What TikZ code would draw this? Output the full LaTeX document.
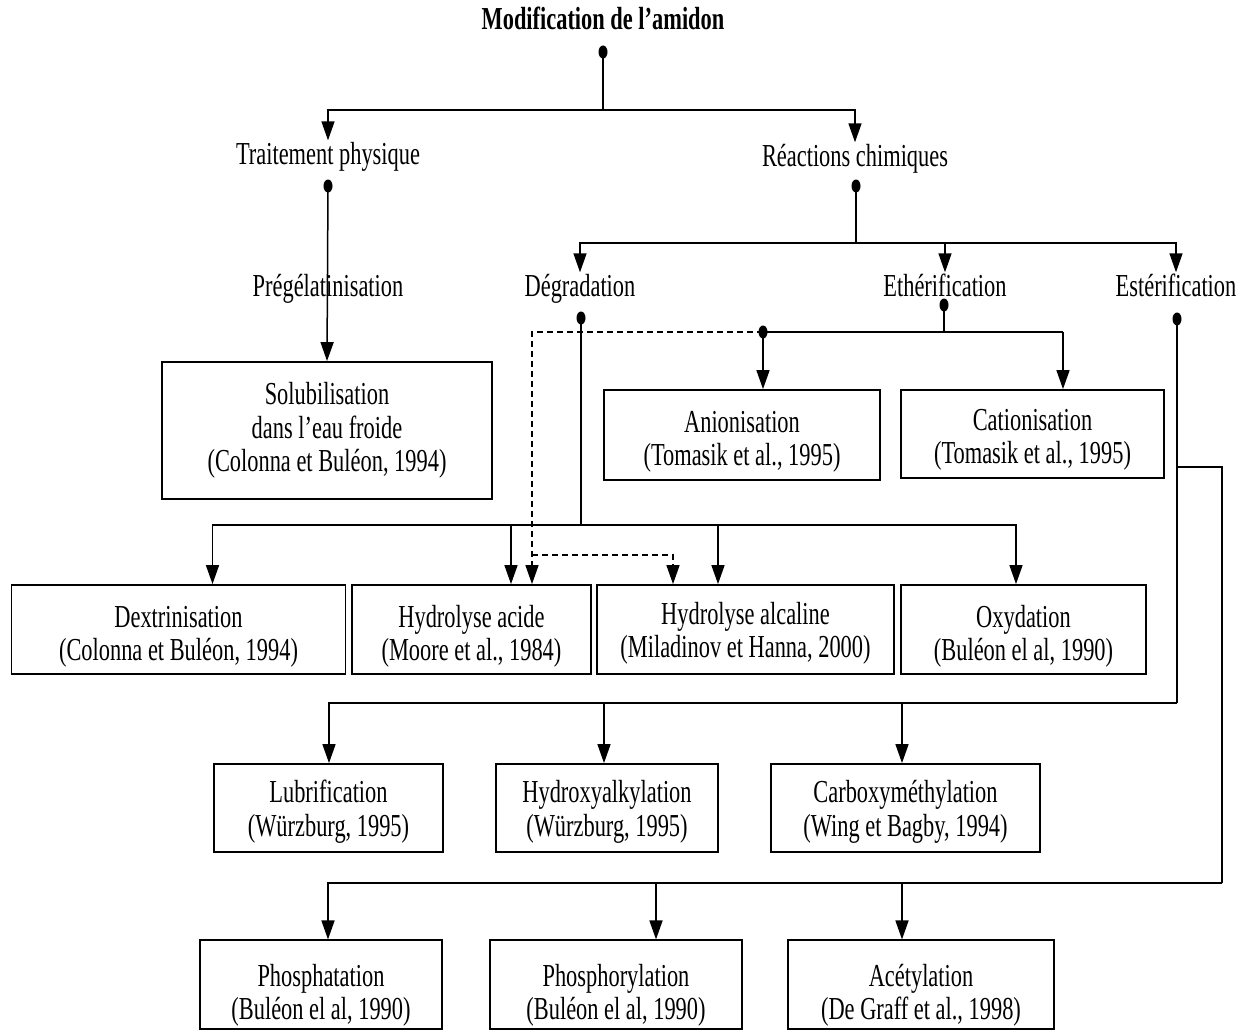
\documentclass[tikz,border=0pt]{standalone}
\usepackage{fontspec}
\setmainfont[FakeStretch=0.7]{Liberation Serif}
\usetikzlibrary{arrows.meta, calc}

\newcommand{\haut}[1]{\rule{0pt}{#1pt}}

\tikzset{
  txt/.style={font=\fontsize{32}{33.5}\selectfont, inner sep=2pt, align=center},
  etiq/.style={txt, text height=22pt, text depth=7pt},
  boite/.style={txt, draw, line width=1.8pt},
  lien/.style={line width=1.5pt},
  fleche/.style={lien, -{Triangle[width=13pt,length=19pt]}},
  tirets/.style={fleche, dash pattern=on 6pt off 4pt},
}

\begin{document}
\begin{tikzpicture}[x=1pt, y=-1pt]
        \useasboundingbox (0,0) rectangle (1253,1030);
        \node[etiq, font=\fontsize{32}{34}\selectfont\bfseries] (mod) at (603,22) {Modification de l'amidon};
        \node[etiq] (trait) at (328,157) {Traitement physique};
        \node[etiq] (reac) at (855,159) {Réactions chimiques};
        \node[etiq] (preg) at (328,289) {Prégélatinisation};
        \node[etiq] (degr) at (580,289) {Dégradation};
        \node[etiq] (ether) at (945,289) {Ethérification};
        \node[etiq] (ester) at (1176,289) {Estérification};

        \node[boite, minimum width=330, minimum height=137] (solub) at (327,430.5) {Solubilisation\\dans l'eau froide\\(Colonna et Buléon, 1994)};
        \node[boite, minimum width=276, minimum height=90] (anion) at (742,435) {\haut{35}Anionisation\\(Tomasik et al., 1995)};
        \node[boite, minimum width=263, minimum height=88] (cation) at (1032.5,434) {\haut{33}Cationisation\\(Tomasik et al., 1995)};
        \node[boite, minimum width=334, minimum height=89] (dextr) at (178.5,629.5) {\haut{36}Dextrinisation\\(Colonna et Buléon, 1994)};
        \node[boite, minimum width=239, minimum height=89] (hacide) at (471.5,629.5) {\haut{36}Hydrolyse acide\\(Moore et al., 1984)};
        \node[boite, minimum width=297, minimum height=89] (halc) at (745.5,629.5) {\haut{30}Hydrolyse alcaline\\(Miladinov et Hanna, 2000)};
        \node[boite, minimum width=245, minimum height=89] (oxyd) at (1023.5,629.5) {\haut{36}Oxydation\\(Buléon el al, 1990)};
        \node[boite, minimum width=229, minimum height=88] (lubri) at (328.5,808) {\haut{30}Lubrification\\(Würzburg, 1995)};
        \node[boite, minimum width=222, minimum height=88] (hydroxy) at (607,808) {\haut{30}Hydroxyalkylation\\(Würzburg, 1995)};
        \node[boite, minimum width=269, minimum height=88] (carboxy) at (905.5,808) {\haut{30}Carboxyméthylation\\(Wing et Bagby, 1994)};
        \node[boite, minimum width=242, minimum height=87] (phosphat) at (321,984.5) {\haut{44}Phosphatation\\(Buléon el al, 1990)};
        \node[boite, minimum width=252, minimum height=87] (phosphor) at (616,984.5) {\haut{44}Phosphorylation\\(Buléon el al, 1990)};
        \node[boite, minimum width=266, minimum height=87] (acet) at (921,984.5) {\haut{44}Acétylation\\(De Graff et al., 1998)};

        \coordinate (pmod) at (603,52);
        \coordinate (jmod) at (603,110);
        \coordinate (ptrait) at (328,186);
        \coordinate (preac) at (856,186);
        \coordinate (jreac) at (856,243);
        \coordinate (pdeg) at (581,318);
        \coordinate (jdeg) at (581,525);
        \coordinate (peth) at (944,305);
        \coordinate (jeth) at (944,332);
        \coordinate (pani) at (763,332);
        \coordinate (jcat) at (1063,332);
        \coordinate (jtir) at (532,332);
        \coordinate (jtir2) at (532,555);
        \coordinate (pest) at (1177,319);
        \coordinate (jest) at (1177,703);
        \coordinate (jdr) at (1177,467);
        \coordinate (jdr2) at (1222,883);

        \draw[lien] (pmod) -- (jmod);
        \draw[fleche] (jmod) -| (trait.north);
        \draw[fleche] (jmod) -| (reac.north);
        \draw[fleche] (ptrait) -- (solub.north);
        \draw[lien] (preac) -- (jreac);
        \foreach \n in {degr, ether, ester} \draw[fleche] (jreac) -| (\n.north);
        % etherification
        \draw[lien] (peth) -- (jeth) -- (jcat);
        \draw[lien] (jeth) -- (pani);
        \draw[fleche] (pani) -- (pani |- anion.north);
        \draw[fleche] (jcat) -- (jcat |- cation.north);
        % degradation
        \draw[lien] (pdeg) -- (jdeg);
        \foreach \n/\d in {dextr/34, hacide/39.5, halc/-27.5, oxyd/-7.5} \draw[fleche] (jdeg) -| ([xshift=\d]\n.north);
        \draw[tirets] (pani) -- (jtir) -- (jtir |- hacide.north);
        \draw[tirets] (jtir2) -| ([xshift=-72.5]halc.north);
        % esterification
        \draw[lien] (pest) -- (jest);
        \foreach \n/\d in {lubri/0.5, hydroxy/-3, carboxy/-3.5} \draw[fleche] (jest) -| ([xshift=\d]\n.north);
        \draw[lien] (jdr) -| (jdr2);
        \foreach \n/\d in {phosphat/7, phosphor/40, acet/-19} \draw[fleche] (jdr2) -| ([xshift=\d]\n.north);

        \foreach \p in {pmod, ptrait, preac, pdeg, peth, pani, pest} \fill (\p) ellipse (4.5 and 6.5);
    \end{tikzpicture}
\end{document}
